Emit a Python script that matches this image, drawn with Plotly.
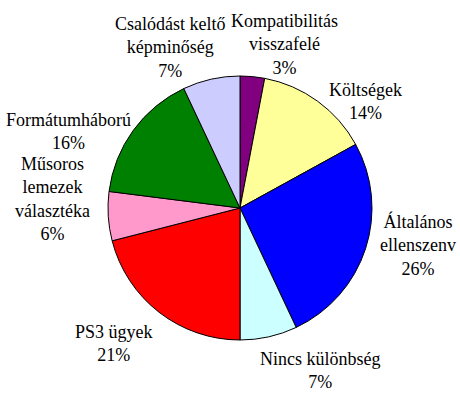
import plotly.graph_objects as go

labels = ["Kompatibilitás<br>visszafelé", "Költségek", "Általános<br>ellenszenv",
          "Nincs különbség", "PS3 ügyek", "Műsoros<br>lemezek<br>választéka",
          "Formátumháború", "Csalódást keltő<br>képminőség"]
values = [3, 14, 26, 7, 21, 6, 16, 7]
colors = ["#800080", "#FFFF99", "#0000FF", "#CCFFFF", "#FF0000", "#FF99CC", "#008000", "#CCCCFF"]

W, H = 460, 395
cx, cy, r = 240, 208, 132
FONT = "Liberation Serif, Times New Roman, serif"

# label block centres, pixel offsets from pie centre
label_offsets = [(44, -164), (125, -107), (178, 37), (80, 162),
                 (-126, 135), (-188, -9), (-172, -77), (-70, -160)]

fig = go.Figure(go.Pie(
    labels=labels, values=values, sort=False, direction="clockwise", rotation=0,
    marker=dict(colors=colors, line=dict(color="black", width=1)),
    textinfo="none", hoverinfo="label+percent",
    automargin=False, showlegend=False,
    domain=dict(x=[(cx - r) / W, (cx + r) / W], y=[(H - cy - r) / H, (H - cy + r) / H]),
))

total = sum(values)
for lab, v, (dx, dy) in zip(labels, values, label_offsets):
    fig.add_annotation(
        x=(cx + dx) / W, y=(H - cy - dy) / H, xref="paper", yref="paper",
        text=f"{lab}<br>{round(100 * v / total)}%", showarrow=False,
        xanchor="center", yanchor="middle", align="center",
        font=dict(family=FONT, size=18, color="black"),
    )

fig.update_layout(width=W, height=H, margin=dict(l=0, r=0, t=0, b=0),
                  paper_bgcolor="white", plot_bgcolor="white")
fig.write_html("out.html")
